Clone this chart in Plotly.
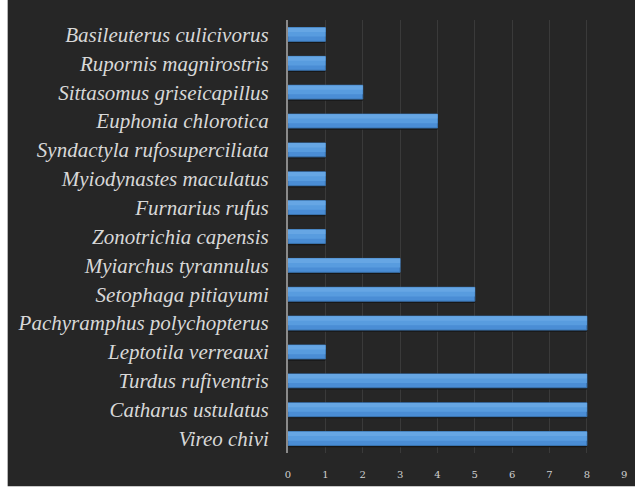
import plotly.graph_objects as go

# Species (top to bottom) and number of records
species = [
    "Basileuterus culicivorus",
    "Rupornis magnirostris",
    "Sittasomus griseicapillus",
    "Euphonia chlorotica",
    "Syndactyla rufosuperciliata",
    "Myiodynastes maculatus",
    "Furnarius rufus",
    "Zonotrichia capensis",
    "Myiarchus tyrannulus",
    "Setophaga pitiayumi",
    "Pachyramphus polychopterus",
    "Leptotila verreauxi",
    "Turdus rufiventris",
    "Catharus ustulatus",
    "Vireo chivi",
]
counts = [1, 1, 2, 4, 1, 1, 1, 1, 3, 5, 8, 1, 8, 8, 8]
x_ticks = list(range(0, 10))

W, H = 635, 488
ML, MR, MT, MB = 288, 8, 19.5, 32.5
BG = "#262626"

fig = go.Figure()

# soft drop shadow under each bar
fig.add_trace(go.Bar(
    y=species, x=counts, orientation="h", width=0.5, offset=-0.2,
    marker=dict(color="#171717", line=dict(width=0)), hoverinfo="skip",
))
# bar body (darkest, lower part of the gradient)
fig.add_trace(go.Bar(
    y=species, x=counts, orientation="h", width=0.48, offset=-0.24,
    marker=dict(color="#4a8dd5", line=dict(color="#3a74b0", width=1)),
))
# lighter bands toward the top of each bar
fig.add_trace(go.Bar(
    y=species, x=counts, orientation="h", width=0.31, offset=-0.235,
    marker=dict(color="#589cdf", line=dict(width=0)), hoverinfo="skip",
))
fig.add_trace(go.Bar(
    y=species, x=counts, orientation="h", width=0.15, offset=-0.235,
    marker=dict(color="#66a6e4", line=dict(width=0)), hoverinfo="skip",
))

pw = W - ML - MR
ph = H - MT - MB

fig.update_layout(
    width=W, height=H,
    margin=dict(l=ML, r=MR, t=MT, b=MB, pad=0),
    paper_bgcolor="white",
    plot_bgcolor=BG,
    barmode="overlay",
    showlegend=False,
    shapes=[dict(
        type="rect", xref="paper", yref="paper", layer="below",
        x0=(6 - ML) / pw, x1=(W - ML) / pw + 0.01,
        y0=-(MB + 1) / ph, y1=(H - MT - 7) / ph,
        fillcolor=BG, line=dict(width=0),
    )],
    xaxis=dict(
        range=[0, 9.02], tickvals=x_ticks, showgrid=True,
        gridcolor="#3a3a3a", gridwidth=1, zeroline=False,
        showline=False, ticks="", ticklabelstandoff=14,
        tickfont=dict(family="DejaVu Serif", size=10, color="#d0d0d0"),
    ),
    yaxis=dict(
        categoryorder="array", categoryarray=species,
        autorange="reversed", showgrid=False, zeroline=False,
        showline=True, linecolor="#8a8a8a", linewidth=2,
        ticks="", ticklabelstandoff=13,
        tickfont=dict(family="Liberation Serif", size=21, color="#d8d8d8",
                      style="italic"),
    ),
)

fig.write_html("out.html")
